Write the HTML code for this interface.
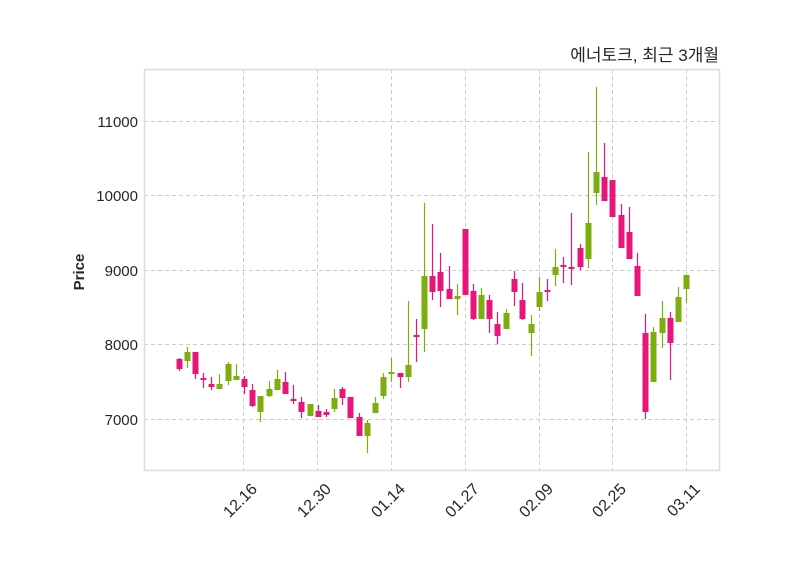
<!DOCTYPE html>
<html><head><meta charset="utf-8"><style>
html,body{margin:0;padding:0;background:#fff;}
svg{display:block;}
text{font-family:"Liberation Sans","Noto Sans CJK KR",sans-serif;fill:#262626;}
</style></head><body>
<svg width="800" height="575" xmlns="http://www.w3.org/2000/svg">
<rect x="0" y="0" width="800" height="575" fill="#fff"/>
<g stroke="#cccccc" stroke-width="1" stroke-dasharray="4,3">
<line x1="144" x2="720" y1="121.5" y2="121.5"/>
<line x1="144" x2="720" y1="195.5" y2="195.5"/>
<line x1="144" x2="720" y1="270.5" y2="270.5"/>
<line x1="144" x2="720" y1="344.5" y2="344.5"/>
<line x1="144" x2="720" y1="419.5" y2="419.5"/>
<line y1="69" y2="471" x1="243.5" x2="243.5"/>
<line y1="69" y2="471" x1="317.5" x2="317.5"/>
<line y1="69" y2="471" x1="391.5" x2="391.5"/>
<line y1="69" y2="471" x1="465.5" x2="465.5"/>
<line y1="69" y2="471" x1="539.5" x2="539.5"/>
<line y1="69" y2="471" x1="612.5" x2="612.5"/>
<line y1="69" y2="471" x1="686.5" x2="686.5"/>
</g>
<rect x="144.5" y="69.5" width="575" height="401" fill="none" stroke="#dddddd" stroke-width="1.5"/>
<g font-size="15" text-anchor="end">
<text x="138" y="127">11000</text>
<text x="138" y="201">10000</text>
<text x="138" y="276">9000</text>
<text x="138" y="350">8000</text>
<text x="138" y="425">7000</text>
</g>
<g font-size="16" text-anchor="end">
<text transform="translate(258,490) rotate(-45)">12.16</text>
<text transform="translate(332,490) rotate(-45)">12.30</text>
<text transform="translate(406,490) rotate(-45)">01.14</text>
<text transform="translate(480,490) rotate(-45)">01.27</text>
<text transform="translate(554,490) rotate(-45)">02.09</text>
<text transform="translate(627,490) rotate(-45)">02.25</text>
<text transform="translate(701,490) rotate(-45)">03.11</text>
</g>
<text transform="translate(84,272) rotate(-90)" font-size="15" font-weight="bold" text-anchor="middle">Price</text>
<text x="719" y="61" font-size="17" text-anchor="end">에너토크, 최근 3개월</text>
<g stroke="#e8157b" stroke-width="1.2">
<line x1="179.5" x2="179.5" y1="358" y2="371"/><line x1="195.5" x2="195.5" y1="352" y2="379"/>
<line x1="203.5" x2="203.5" y1="373" y2="388"/><line x1="211.5" x2="211.5" y1="377" y2="390"/>
<line x1="244.5" x2="244.5" y1="376" y2="394"/><line x1="252.5" x2="252.5" y1="384" y2="407"/>
<line x1="285.5" x2="285.5" y1="372" y2="394"/><line x1="293.5" x2="293.5" y1="385" y2="404"/>
<line x1="301.5" x2="301.5" y1="397" y2="418"/><line x1="318.5" x2="318.5" y1="405" y2="417"/>
<line x1="326.5" x2="326.5" y1="409" y2="417"/><line x1="342.5" x2="342.5" y1="387" y2="405"/>
<line x1="359.5" x2="359.5" y1="413" y2="436"/><line x1="400.5" x2="400.5" y1="373" y2="388"/>
<line x1="416.5" x2="416.5" y1="319" y2="362"/><line x1="432.5" x2="432.5" y1="224" y2="300"/>
<line x1="440.5" x2="440.5" y1="253" y2="307"/><line x1="449.5" x2="449.5" y1="266" y2="299"/>
<line x1="473.5" x2="473.5" y1="284" y2="320"/><line x1="489.5" x2="489.5" y1="295" y2="333"/>
<line x1="497.5" x2="497.5" y1="312" y2="344"/><line x1="514.5" x2="514.5" y1="271" y2="306"/>
<line x1="522.5" x2="522.5" y1="283" y2="320"/><line x1="547.5" x2="547.5" y1="279" y2="301"/>
<line x1="563.5" x2="563.5" y1="257" y2="283"/><line x1="571.5" x2="571.5" y1="213" y2="285"/>
<line x1="580.5" x2="580.5" y1="244" y2="270"/><line x1="604.5" x2="604.5" y1="143" y2="201"/>
<line x1="621.5" x2="621.5" y1="204" y2="248"/><line x1="629.5" x2="629.5" y1="207" y2="259"/>
<line x1="637.5" x2="637.5" y1="253" y2="296"/><line x1="645.5" x2="645.5" y1="314" y2="419"/>
<line x1="670.5" x2="670.5" y1="312" y2="380"/>
</g>
<g fill="#e8157b">
<rect x="176.5" y="359" width="6" height="10"/><rect x="192.5" y="352" width="6" height="22"/>
<rect x="200.5" y="378" width="6" height="2"/><rect x="208.5" y="384" width="6" height="3"/>
<rect x="241.5" y="379" width="6" height="8"/><rect x="249.5" y="390" width="6" height="16"/>
<rect x="282.5" y="382" width="6" height="12"/><rect x="290.5" y="399" width="6" height="2"/>
<rect x="298.5" y="402" width="6" height="10"/><rect x="315.5" y="411" width="6" height="6"/>
<rect x="323.5" y="412" width="6" height="3"/><rect x="339.5" y="389" width="6" height="9"/>
<rect x="347.5" y="397" width="6" height="21"/><rect x="356.5" y="417" width="6" height="19"/>
<rect x="397.5" y="373" width="6" height="4"/><rect x="413.5" y="335" width="6" height="2"/>
<rect x="429.5" y="276" width="6" height="16"/><rect x="437.5" y="272" width="6" height="19"/>
<rect x="446.5" y="289" width="6" height="10"/><rect x="462.5" y="229" width="6" height="66"/>
<rect x="470.5" y="291" width="6" height="28"/><rect x="486.5" y="300" width="6" height="19"/>
<rect x="494.5" y="324" width="6" height="12"/><rect x="511.5" y="279" width="6" height="13"/>
<rect x="519.5" y="300" width="6" height="19"/><rect x="544.5" y="290" width="6" height="2"/>
<rect x="560.5" y="265" width="6" height="2"/><rect x="568.5" y="267" width="6" height="2"/>
<rect x="577.5" y="248" width="6" height="19"/><rect x="601.5" y="177" width="6" height="24"/>
<rect x="609.5" y="180" width="6" height="37"/><rect x="618.5" y="215" width="6" height="33"/>
<rect x="626.5" y="232" width="6" height="27"/><rect x="634.5" y="266" width="6" height="30"/>
<rect x="642.5" y="333" width="6" height="79"/><rect x="667.5" y="318" width="6" height="25"/>
</g>
<g stroke="#7cae0e" stroke-width="1.2">
<line x1="187.5" x2="187.5" y1="347" y2="368"/><line x1="219.5" x2="219.5" y1="374" y2="389"/>
<line x1="228.5" x2="228.5" y1="362" y2="385"/><line x1="236.5" x2="236.5" y1="364" y2="380"/>
<line x1="260.5" x2="260.5" y1="396" y2="422"/><line x1="269.5" x2="269.5" y1="381" y2="397"/>
<line x1="277.5" x2="277.5" y1="370" y2="390"/><line x1="310.5" x2="310.5" y1="404" y2="416"/>
<line x1="334.5" x2="334.5" y1="389" y2="412"/><line x1="367.5" x2="367.5" y1="420" y2="453"/>
<line x1="375.5" x2="375.5" y1="397" y2="413"/><line x1="383.5" x2="383.5" y1="373" y2="399"/>
<line x1="391.5" x2="391.5" y1="358" y2="382"/><line x1="408.5" x2="408.5" y1="301" y2="382"/>
<line x1="424.5" x2="424.5" y1="203" y2="352"/><line x1="457.5" x2="457.5" y1="284" y2="315"/>
<line x1="481.5" x2="481.5" y1="288" y2="319"/><line x1="506.5" x2="506.5" y1="309" y2="329"/>
<line x1="531.5" x2="531.5" y1="315" y2="356"/><line x1="539.5" x2="539.5" y1="277" y2="311"/>
<line x1="555.5" x2="555.5" y1="249" y2="286"/><line x1="588.5" x2="588.5" y1="152" y2="268"/>
<line x1="596.5" x2="596.5" y1="87" y2="205"/><line x1="653.5" x2="653.5" y1="327" y2="382"/>
<line x1="662.5" x2="662.5" y1="301" y2="348"/><line x1="678.5" x2="678.5" y1="287" y2="322"/>
<line x1="686.5" x2="686.5" y1="275" y2="303"/>
</g>
<g fill="#7cae0e">
<rect x="184.5" y="352" width="6" height="9"/><rect x="216.5" y="384" width="6" height="5"/>
<rect x="225.5" y="364" width="6" height="17"/><rect x="233.5" y="376" width="6" height="4"/>
<rect x="257.5" y="396" width="6" height="16"/><rect x="266.5" y="389" width="6" height="7"/>
<rect x="274.5" y="379" width="6" height="11"/><rect x="307.5" y="404" width="6" height="12"/>
<rect x="331.5" y="398" width="6" height="11"/><rect x="364.5" y="423" width="6" height="13"/>
<rect x="372.5" y="403" width="6" height="10"/><rect x="380.5" y="377" width="6" height="19"/>
<rect x="388.5" y="372" width="6" height="2"/><rect x="405.5" y="365" width="6" height="12"/>
<rect x="421.5" y="276" width="6" height="53"/><rect x="454.5" y="296" width="6" height="3"/>
<rect x="478.5" y="295" width="6" height="24"/><rect x="503.5" y="313" width="6" height="16"/>
<rect x="528.5" y="324" width="6" height="9"/><rect x="536.5" y="292" width="6" height="15"/>
<rect x="552.5" y="267" width="6" height="8"/><rect x="585.5" y="223" width="6" height="36"/>
<rect x="593.5" y="172" width="6" height="21"/><rect x="650.5" y="332" width="6" height="50"/>
<rect x="659.5" y="318" width="6" height="15"/><rect x="675.5" y="297" width="6" height="25"/>
<rect x="683.5" y="275" width="6" height="14"/>
</g>
</svg>
</body></html>
